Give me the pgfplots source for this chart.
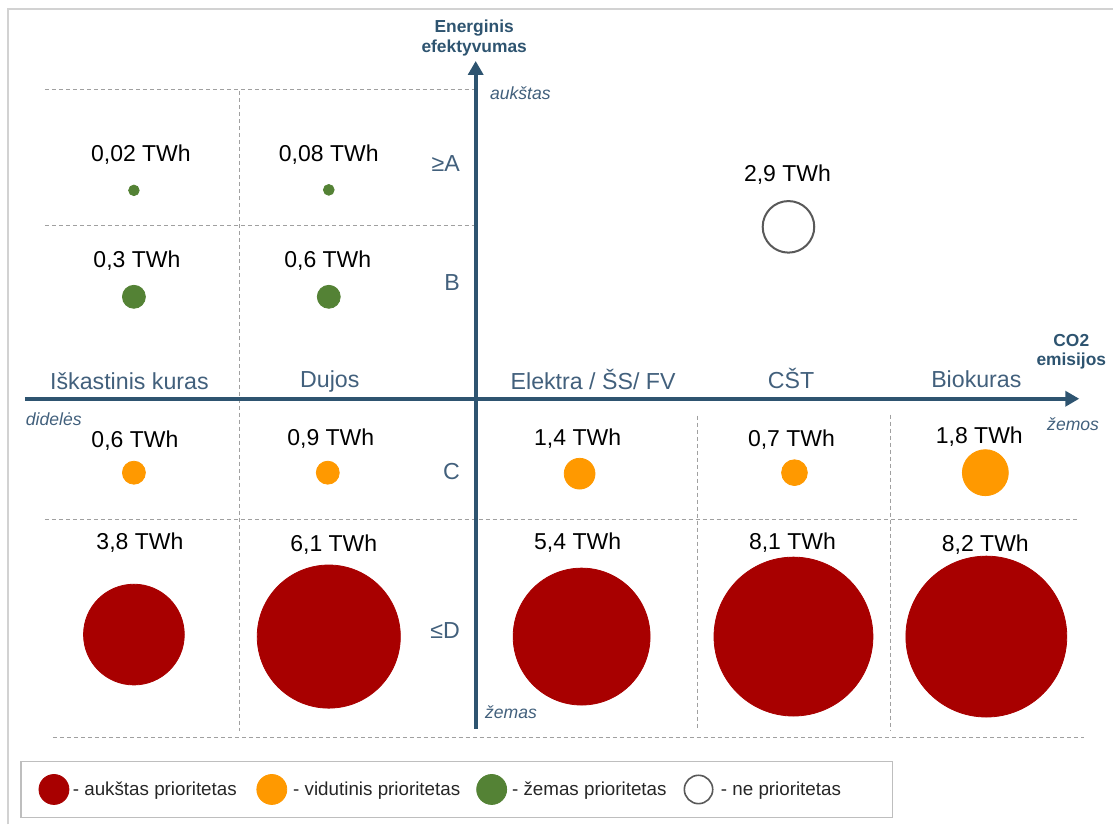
\documentclass[border=0pt]{standalone}
\usepackage{fontspec}
\setmainfont{Liberation Sans}
\usepackage{pgfplots}
\pgfplotsset{compat=1.18}
\usetikzlibrary{arrows.meta}

\definecolor{axisblue}{RGB}{46,84,112}
\definecolor{labelblue}{RGB}{66,96,124}
\definecolor{gridgray}{RGB}{160,160,160}
\definecolor{framegray}{RGB}{210,210,210}
\definecolor{legendgray}{RGB}{190,190,190}
\definecolor{cRed}{RGB}{168,0,0}
\definecolor{cOrange}{RGB}{255,153,0}
\definecolor{cGreen}{RGB}{84,130,53}
\definecolor{ringgray}{RGB}{89,89,89}

\newcommand\valfont{\fontsize{11.5}{13}\selectfont}
\newcommand\catfont{\fontsize{11.6}{13}\selectfont}
\newcommand\ttlfont{\fontsize{8.7}{10}\selectfont\bfseries}
\newcommand\itfont{\fontsize{8.8}{10}\selectfont\itshape}
\newcommand\legfont{\fontsize{9.4}{11}\selectfont}

% bubble series: x, y and radius r (1 unit = 0.5pt)
\pgfplotsset{
  bubble/.style 2 args={
    scatter, only marks, mark=*,
    point meta=\thisrow{r},
    visualization depends on={\thisrow{r} \as \bubr},
    scatter/@pre marker code/.code={\scope[mark size=0.5*\bubr, fill=#1, draw=#2]},
    scatter/@post marker code/.code={\endscope},
  },
}

\begin{document}
\begin{tikzpicture}
\begin{axis}[
  scale only axis, width=557pt, height=412.5pt,
  xmin=0, xmax=1114, ymin=0, ymax=825, y dir=reverse,
  hide axis, clip=false,
  /pgf/number format/assume math mode=true,
]
% page extent and outer frame
\path (0,0) rectangle (1114,825);
\draw[framegray, line width=0.75pt] (8,825) -- (8,9) -- (1114,9);

% dashed grid of the quadrants
\begin{scope}[gridgray, line width=0.5pt, dash pattern=on 2pt off 1.5pt]
  \draw (45,90) -- (476,90);
  \draw (45,226) -- (476,226);
  \draw (45,520) -- (1080,520);
  \draw (53,738) -- (1085,738);
  \draw (240,91) -- (240,731);
  \draw (698,416) -- (698,731);
  \draw (891,415) -- (891,731);
\end{scope}

% main axes
\draw[axisblue, line width=2pt, -{Triangle[length=7pt,width=7.5pt]}] (476,729) -- (476,61);
\draw[axisblue, line width=2pt, -{Triangle[length=7pt,width=7.5pt]}] (25,399) -- (1080,399);

\begin{scope}[every node/.append style={inner sep=0pt}]
% axis titles
\node[anchor=base, text=axisblue, font=\ttlfont] at (474.5,32.5) {Energinis};
\node[anchor=base, text=axisblue, font=\ttlfont] at (474.5,53) {efektyvumas};
\node[anchor=base, text=axisblue, font=\ttlfont] at (1072,346.5) {CO2};
\node[anchor=base, text=axisblue, font=\ttlfont] at (1072,366) {emisijos};
\node[anchor=base west, text=labelblue, font=\itfont] at (490,100) {aukštas};
\node[anchor=base west, text=labelblue, font=\itfont] at (485,719) {žemas};
\node[anchor=base west, text=labelblue, font=\itfont] at (25.5,425.5) {didelės};
\node[anchor=base west, text=labelblue, font=\itfont] at (1047.5,430.5) {žemos};

% efficiency classes
\node[anchor=base east, text=labelblue, font=\catfont] at (460.5,171.5) {≥A};
\node[anchor=base east, text=labelblue, font=\catfont] at (460.5,291) {B};
\node[anchor=base east, text=labelblue, font=\catfont] at (460.5,480) {C};
\node[anchor=base east, text=labelblue, font=\catfont] at (460.5,638.5) {≤D};

% heating sources
\node[anchor=base, text=labelblue, font=\catfont] at (129.5,390) {Iškastinis kuras};
\node[anchor=base, text=labelblue, font=\catfont] at (330,388) {Dujos};
\node[anchor=base, text=labelblue, font=\catfont] at (593.5,390) {Elektra / ŠS/ FV};
\node[anchor=base, text=labelblue, font=\catfont] at (791.5,389) {CŠT};
\node[anchor=base, text=labelblue, font=\catfont] at (977,387.5) {Biokuras};
\end{scope}

% high priority
\addplot[bubble={cRed}{cRed}] table {
x y r
134 635 50.4
329 637 71.6
582 637 68.5
794 637 79.5
987 637 80.5
};
% medium priority
\addplot[bubble={cOrange}{cOrange}] table {
x y r
134 473 11.5
328 473 11.5
580 474 15.4
795 473 12.9
986 473 23.0
};
% low priority
\addplot[bubble={cGreen}{cGreen}] table {
x y r
134 190.5 5.3
329 190 5.4
134 297 11.5
329 297 11.5
};
% not a priority
\addplot[bubble={white}{ringgray}, mark options={line width=1pt}] table {
x y r
789 227 25.8
};

% energy of each cell, TWh
\addplot[only marks, mark=none,
  point meta=\thisrow{v},
  nodes near coords={\pgfmathprintnumber[fixed, precision=2, use comma]{\pgfplotspointmeta}~TWh},
  every node near coord/.append style={anchor=base, inner sep=0pt, text=black, font=\valfont},
] table {
x y v
141 161.5 0.02
329 161.5 0.08
137 268 0.3
328 268 0.6
788 181.5 2.9
135 448 0.6
331 446 0.9
578 446 1.4
792 446.5 0.7
980 443.5 1.8
140 550 3.8
334 551.5 6.1
578 550 5.4
793 550 8.1
986 551.5 8.2
};

% legend
\draw[legendgray, line width=0.6pt] (21,762) rectangle (893,818);
\addplot[bubble={cRed}{cRed}] table {
x y r
54 790 15
};
\addplot[bubble={cOrange}{cOrange}] table {
x y r
272 790 15
};
\addplot[bubble={cGreen}{cGreen}] table {
x y r
492 790 15
};
\addplot[bubble={white}{ringgray}, mark options={line width=0.8pt}] table {
x y r
699 790 14.2
};
\begin{scope}[every node/.append style={inner sep=0pt, anchor=base west, text=black!85, font=\legfont}]
\node at (72.5,796) {- aukštas prioritetas};
\node at (293,796) {- vidutinis prioritetas};
\node at (512,796) {- žemas prioritetas};
\node at (721,796) {- ne prioritetas};
\end{scope}
\end{axis}
\end{tikzpicture}
\end{document}
